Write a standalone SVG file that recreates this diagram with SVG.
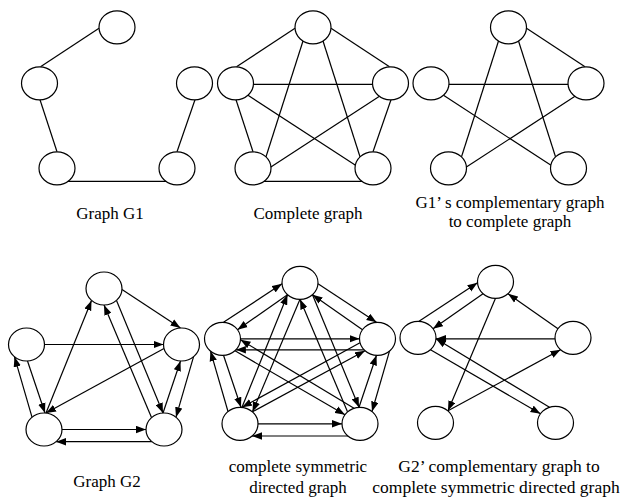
<svg xmlns="http://www.w3.org/2000/svg" width="626" height="500" viewBox="0 0 626 500">
<defs>
<marker id="arr" markerWidth="10" markerHeight="8" refX="10" refY="4" orient="auto" markerUnits="userSpaceOnUse"><path d="M0,0.3 L10,4 L0,7.7 z" fill="#000"/></marker>
<style>
.node{fill:#fff;stroke:#000;stroke-width:1.2}
.edge{stroke:#000;stroke-width:1.2;fill:none}
.arrow{marker-end:url(#arr)}
.label{font-family:"Liberation Serif","Times New Roman",serif;font-size:17px;fill:#000;text-anchor:middle}
.label2{font-size:17.5px}
</style>
</defs>
<rect width="626" height="500" fill="#fff"/>

<!-- Graph G1 -->
<g id="graph-g1" transform="translate(117,27.3)">
  <g id="g1-connectors">
    <line class="edge" x1="-18" y1="1" x2="-76.5" y2="39.5"/>
    <line class="edge" x1="-77" y1="72.5" x2="-60" y2="124.5"/>
    <line class="edge" x1="-49" y1="154" x2="49" y2="154"/>
    <line class="edge" x1="78" y1="72.5" x2="60" y2="124.5"/>
  </g>
  <g id="g1-top"><ellipse class="node" cx="0" cy="0" rx="18" ry="16.5"/></g>
  <g id="g1-left"><ellipse class="node" cx="-77.5" cy="56" rx="18" ry="16.5"/></g>
  <g id="g1-right"><ellipse class="node" cx="77.5" cy="56" rx="18" ry="16.5"/></g>
  <g id="g1-bottom-left"><ellipse class="node" cx="-60" cy="141" rx="18" ry="16.5"/></g>
  <g id="g1-bottom-right"><ellipse class="node" cx="60" cy="141" rx="18" ry="16.5"/></g>
</g>

<!-- Complete graph -->
<g id="graph-complete" transform="translate(313,27.3)">
  <g id="kc-connectors">
    <line class="edge" x1="-18" y1="1" x2="-76.5" y2="39.5"/>
    <line class="edge" x1="18" y1="1" x2="76.5" y2="39.5"/>
    <line class="edge" x1="-59.5" y1="57" x2="59.5" y2="57"/>
    <line class="edge" x1="-10" y1="13.7" x2="-47" y2="129.5"/>
    <line class="edge" x1="10" y1="13.7" x2="47" y2="129.5"/>
    <line class="edge" x1="-77" y1="72.5" x2="-60" y2="124.5"/>
    <line class="edge" x1="-65" y1="68" x2="42.5" y2="138"/>
    <line class="edge" x1="66.5" y1="69" x2="-42.5" y2="140"/>
    <line class="edge" x1="78" y1="72.5" x2="60" y2="124.5"/>
    <line class="edge" x1="-49" y1="154" x2="49" y2="154"/>
  </g>
  <g id="kc-top"><ellipse class="node" cx="0" cy="0" rx="18" ry="16.5"/></g>
  <g id="kc-left"><ellipse class="node" cx="-77.5" cy="56" rx="18" ry="16.5"/></g>
  <g id="kc-right"><ellipse class="node" cx="77.5" cy="56" rx="18" ry="16.5"/></g>
  <g id="kc-bottom-left"><ellipse class="node" cx="-60" cy="141" rx="18" ry="16.5"/></g>
  <g id="kc-bottom-right"><ellipse class="node" cx="60" cy="141" rx="18" ry="16.5"/></g>
</g>

<!-- G1' complement -->
<g id="graph-g1c" transform="translate(508.5,27.3)">
  <g id="g1c-connectors">
    <line class="edge" x1="18" y1="1" x2="76.5" y2="39.5"/>
    <line class="edge" x1="-59.5" y1="57" x2="59.5" y2="57"/>
    <line class="edge" x1="-10" y1="13.7" x2="-47" y2="129.5"/>
    <line class="edge" x1="10" y1="13.7" x2="47" y2="129.5"/>
    <line class="edge" x1="-65" y1="68" x2="42.5" y2="138"/>
    <line class="edge" x1="66.5" y1="69" x2="-42.5" y2="140"/>
  </g>
  <g id="g1c-top"><ellipse class="node" cx="0" cy="0" rx="18" ry="16.5"/></g>
  <g id="g1c-left"><ellipse class="node" cx="-77.5" cy="56" rx="18" ry="16.5"/></g>
  <g id="g1c-right"><ellipse class="node" cx="77.5" cy="56" rx="18" ry="16.5"/></g>
  <g id="g1c-bottom-left"><ellipse class="node" cx="-60" cy="141" rx="18" ry="16.5"/></g>
  <g id="g1c-bottom-right"><ellipse class="node" cx="60" cy="141" rx="18" ry="16.5"/></g>
</g>

<!-- Graph G2 -->
<g id="graph-g2" transform="translate(104,288.5)">
  <g id="g2-connectors">
    <line class="edge arrow" x1="18" y1="1" x2="76.5" y2="39.5"/>
    <line class="edge arrow" x1="-58" y1="124.5" x2="-12.5" y2="12"/>
    <line class="edge arrow" x1="12.5" y1="12" x2="59" y2="124.5"/>
    <line class="edge arrow" x1="47.5" y1="129" x2="0" y2="16.5"/>
    <line class="edge arrow" x1="-59.5" y1="56" x2="59.5" y2="56"/>
    <line class="edge arrow" x1="-76.5" y1="72.5" x2="-59" y2="124.5"/>
    <line class="edge arrow" x1="-72" y1="128.7" x2="-89.5" y2="68.3"/>
    <line class="edge arrow" x1="60" y1="60" x2="-58" y2="124.5"/>
    <line class="edge arrow" x1="89.5" y1="68.3" x2="72" y2="128.7"/>
    <line class="edge arrow" x1="59" y1="124.5" x2="76.5" y2="72.5"/>
    <line class="edge arrow" x1="-42" y1="141" x2="42" y2="141"/>
    <line class="edge arrow" x1="48" y1="153.2" x2="-48" y2="153.2"/>
  </g>
  <g id="g2-top"><ellipse class="node" cx="0" cy="0" rx="18" ry="16.5"/></g>
  <g id="g2-left"><ellipse class="node" cx="-77.5" cy="56" rx="18" ry="16.5"/></g>
  <g id="g2-right"><ellipse class="node" cx="77.5" cy="56" rx="18" ry="16.5"/></g>
  <g id="g2-bottom-left"><ellipse class="node" cx="-60" cy="141" rx="18" ry="16.5"/></g>
  <g id="g2-bottom-right"><ellipse class="node" cx="60" cy="141" rx="18" ry="16.5"/></g>
</g>

<!-- Complete symmetric directed graph -->
<g id="graph-csd" transform="translate(300,282.8)">
  <g id="csd-connectors">
    <line class="edge arrow" x1="18" y1="1" x2="76.5" y2="39.5"/>
    <line class="edge arrow" x1="62.5" y1="47" x2="12.5" y2="12"/>
    <line class="edge arrow" x1="-76.5" y1="39.5" x2="-18" y2="1"/>
    <line class="edge arrow" x1="-12.5" y1="12" x2="-62.5" y2="47"/>
    <line class="edge arrow" x1="-59.5" y1="56" x2="59.5" y2="56"/>
    <line class="edge arrow" x1="64.1" y1="67" x2="-64.1" y2="67"/>
    <line class="edge arrow" x1="-76.5" y1="72.5" x2="-59" y2="124.5"/>
    <line class="edge arrow" x1="-72" y1="128.7" x2="-89.5" y2="68.3"/>
    <line class="edge arrow" x1="89.5" y1="68.3" x2="72" y2="128.7"/>
    <line class="edge arrow" x1="59" y1="124.5" x2="76.5" y2="72.5"/>
    <line class="edge arrow" x1="-58" y1="124.5" x2="-12.5" y2="12"/>
    <line class="edge arrow" x1="0" y1="16.5" x2="-47.5" y2="129"/>
    <line class="edge arrow" x1="12.5" y1="12" x2="59" y2="124.5"/>
    <line class="edge arrow" x1="47.5" y1="129" x2="0" y2="16.5"/>
    <line class="edge arrow" x1="-42" y1="141" x2="42" y2="141"/>
    <line class="edge arrow" x1="48" y1="153.2" x2="-48" y2="153.2"/>
    <line class="edge arrow" x1="60" y1="60" x2="-58" y2="124.5"/>
    <line class="edge arrow" x1="-47.5" y1="129" x2="65" y2="68"/>
    <line class="edge arrow" x1="-65" y1="68" x2="45" y2="132"/>
    <line class="edge arrow" x1="54" y1="125.5" x2="-59.5" y2="57"/>
  </g>
  <g id="csd-top"><ellipse class="node" cx="0" cy="0" rx="18" ry="16.5"/></g>
  <g id="csd-left"><ellipse class="node" cx="-77.5" cy="56" rx="18" ry="16.5"/></g>
  <g id="csd-right"><ellipse class="node" cx="77.5" cy="56" rx="18" ry="16.5"/></g>
  <g id="csd-bottom-left"><ellipse class="node" cx="-60" cy="141" rx="18" ry="16.5"/></g>
  <g id="csd-bottom-right"><ellipse class="node" cx="60" cy="141" rx="18" ry="16.5"/></g>
</g>

<!-- G2' complement -->
<g id="graph-g2c" transform="translate(495.5,281.8)">
  <g id="g2c-connectors">
    <line class="edge arrow" x1="-76.5" y1="39.5" x2="-18" y2="1"/>
    <line class="edge arrow" x1="-12.5" y1="12" x2="-62.5" y2="47"/>
    <line class="edge arrow" x1="0" y1="16.5" x2="-47.5" y2="129"/>
    <line class="edge arrow" x1="62.5" y1="47" x2="12.5" y2="12"/>
    <line class="edge arrow" x1="59.5" y1="57" x2="-59.5" y2="57"/>
    <line class="edge arrow" x1="-47.5" y1="129" x2="65" y2="68"/>
    <line class="edge arrow" x1="-65" y1="68" x2="45" y2="132"/>
    <line class="edge arrow" x1="54" y1="125.5" x2="-59.5" y2="57"/>
  </g>
  <g id="g2c-top"><ellipse class="node" cx="0" cy="0" rx="18" ry="16.5"/></g>
  <g id="g2c-left"><ellipse class="node" cx="-77.5" cy="56" rx="18" ry="16.5"/></g>
  <g id="g2c-right"><ellipse class="node" cx="77.5" cy="56" rx="18" ry="16.5"/></g>
  <g id="g2c-bottom-left"><ellipse class="node" cx="-60" cy="141" rx="18" ry="16.5"/></g>
  <g id="g2c-bottom-right"><ellipse class="node" cx="60" cy="141" rx="18" ry="16.5"/></g>
</g>

<g id="labels">
  <text class="label" x="110" y="219">Graph G1</text>
  <text class="label" x="308" y="219">Complete graph</text>
  <text class="label" x="510" y="208">G1’ s complementary graph</text>
  <text class="label" x="510" y="227">to complete graph</text>
  <text class="label" x="107" y="487">Graph G2</text>
  <text class="label" x="298" y="472">complete symmetric</text>
  <text class="label" x="298" y="493">directed graph</text>
  <text class="label label2" x="499" y="472">G2’ complementary graph to</text>
  <text class="label label2" x="496" y="493">complete symmetric directed graph</text>
</g>
</svg>
